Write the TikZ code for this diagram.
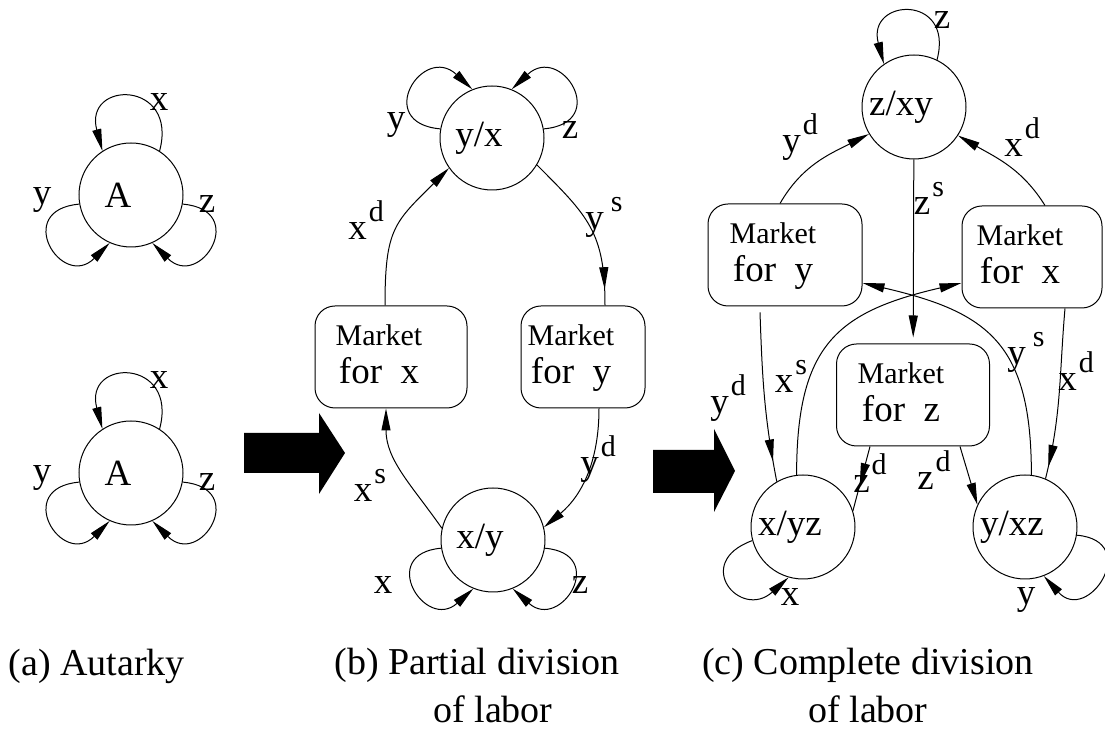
\documentclass[tikz,border=0pt]{standalone}
\usepackage{fontspec}
\setmainfont{Liberation Serif}
\usetikzlibrary{arrows.meta, decorations.markings}
\newcommand{\flow}[2]{#1\kern1pt\raisebox{9pt}{\fontsize{15}{15}\selectfont #2}}
\newcommand{\mkt}[1]{\begin{tabular}{@{}c@{}}{\fontsize{15}{15}\selectfont Market}\\ for\enspace #1\end{tabular}}

\begin{document}
\begin{tikzpicture}[x=0.5pt, y=0.5pt, line width=0.5pt, >={Triangle[length=11pt,width=4.5pt]},
    agent/.style={circle, draw, minimum size=52pt, inner sep=0pt, font=\fontsize{18.5}{20}\selectfont, execute at end node=\hspace{13pt}},
    market/.style={draw, rounded corners=10pt, minimum height=51pt, inner sep=0pt, font=\fontsize{18.5}{19}\selectfont, execute at end node=\hspace{12pt}},
    lbl/.style={inner sep=0pt, font=\fontsize{18.5}{20}\selectfont},
    caption/.style={align=center, inner sep=0pt, font=\fontsize{19}{24}\selectfont},
    midarrow/.style={postaction={decorate}, decoration={markings, mark=at position #1 with {\arrow{>}}}}]
    \useasboundingbox (0,0) rectangle (1105,733);

    % Nodes
    \node[agent] (A1) at (131,538) {A};
    \node[agent] (A2) at (131,260) {A};
    \node[agent] (YX) at (492,595) {y/x};
    \node[agent] (XY) at (493,193) {x/y};
    \node[market, minimum width=76pt] (MX) at (391,376) {\mkt{x}};
    \node[market, minimum width=62pt] (MY) at (583,376) {\mkt{y}};
    \node[agent] (ZXY) at (914,626) {z/xy};
    \node[agent] (XYZ) at (803,206) {x/yz};
    \node[agent] (YXZ) at (1025,206) {y/xz};
    \node[market, minimum width=77pt] (MYc) at (785,478) {\mkt{y}};
    \node[market, minimum width=70pt] (MXc) at (1032,476) {\mkt{x}};
    \node[market, minimum width=76.5pt] (MZ) at (913,338) {\mkt{z}};

    % (a) autarky loops
    \foreach \n in {A1,A2} {
      \draw[->] (\n.57) to[out=75,in=105,looseness=3.3] (\n.123);
      \draw[->] (\n.190) to[out=185,in=225,looseness=3.5] (\n.246);
      \draw[->] (\n.350) to[out=355,in=315,looseness=3.5] (\n.294);
      \node[lbl] (lx\n) at ([shift={(28,93)}]\n.center) {x};
      \node[lbl] (ly\n) at ([shift={(-89,-5)}]\n.center) {y};
      \node[lbl] (lz\n) at ([shift={(76,-9)}]\n.center) {z};
    }

    % (b) edges
    \draw[->] ([xshift=-3pt]MX.north) to[out=90,in=225,looseness=1.3] (YX.215);
    \draw[midarrow=0.9] (YX.329) to[out=-45,in=90,looseness=1.2] ([xshift=11pt]MY.north);
    \draw[->] ([xshift=8pt]MY.south) to[out=270,in=40] (XY.14);
    \draw[->] (XY.167) to[out=125,in=270] ([xshift=-2.5pt]MX.south);
    \draw[->] (YX.170) to[out=175,in=137,looseness=3.4] (YX.112);
    \draw[->] (YX.10) to[out=5,in=43,looseness=3.4] (YX.68);
    \draw[->] (XY.189) to[out=185,in=222,looseness=3.2] (XY.248);
    \draw[->] (XY.351) to[out=355,in=318,looseness=3.2] (XY.292);

    \node[lbl] (lyb) at (396,608) {y};
    \node[lbl] (lzb) at (570,603) {z};
    \node[lbl] (lxb) at (383,148) {x};
    \node[lbl] (lzb2) at (580,148) {z};
    \node[lbl] (xdb) at (366,513) {\flow{x}{d}};
    \node[lbl] (ysb) at (604,516) {\flow{y}{\,s}};
    \node[lbl] (ydb) at (598,274) {\flow{y}{d}};
    \node[lbl] (xsb) at (370,248) {\flow{x}{s}};

    % big arrows
    \fill (244,260) -- (319,260) -- (319,239) -- (345,280) -- (319,320) -- (319,300) -- (244,300) -- cycle;
    \fill (653,240) -- (714,240) -- (714,221) -- (735,262) -- (714,304) -- (714,283) -- (653,283) -- cycle;

    % (c) edges
    \draw[->] ([xshift=-2.5pt]MYc.north) to[out=60,in=207] (ZXY.211);
    \draw[->] ([xshift=6.5pt]MXc.north) to[out=122,in=330] (ZXY.327);
    \draw[->, shorten >=3pt] (ZXY) -- (MZ);
    \draw[midarrow=0.88] ([xshift=-12.5pt,yshift=-3pt]MYc.south) to[out=272,in=101] (XYZ.120);
    \draw[->] (XYZ.97) to[out=90,in=193,looseness=1.3] ([yshift=-13pt]MXc.west);
    \draw[->] (YXZ.83) to[out=90,in=347,looseness=1.3] ([yshift=-14pt]MYc.east);
    \draw[midarrow=0.93] ([xshift=16.5pt]MXc.south) to[out=265,in=76] (YXZ.67);
    \draw[midarrow=0.6] ([xshift=-21.5pt]MZ.south) -- (XYZ.18);
    \draw[->] ([xshift=23.5pt]MZ.south) -- (YXZ.155);
    \draw[->] (ZXY.64) to[out=75,in=105,looseness=3.3] (ZXY.125);
    \draw[->] (XYZ.195) to[out=200,in=222,looseness=3.2] (XYZ.254);
    \draw[->] (YXZ.351) to[out=355,in=312,looseness=3.2] (YXZ.291);

    \node[lbl] (lzc) at (942,713) {z};
    \node[lbl] (lxc) at (790,136) {x};
    \node[lbl] (lyc) at (1026,133) {y};
    \node[lbl] (ydc) at (800,596) {\flow{y}{d}};
    \node[lbl] (xdc) at (1022,596) {\flow{x}{d}};
    \node[lbl] (zsc) at (929,535) {\flow{z}{s}};
    \node[lbl] (ydc2) at (728,335) {\flow{y}{d}};
    \node[lbl] (xsc) at (791,357) {\flow{x}{s}};
    \node[lbl] (ysc) at (1026,381) {\flow{y}{\,s}};
    \node[lbl] (xdc2) at (1076,362) {\flow{x}{d}};
    \node[lbl] (zdc) at (870,260) {\flow{z}{d}};
    \node[lbl] (zdc2) at (934,263) {\flow{z}{d}};

    % captions
    \node[caption, anchor=west] (capa) at (8,67) {(a) Autarky};
    \node[caption] (capb) at (477,47) {(b) Partial division\\\hspace*{16pt}of labor};
    \node[caption] (capc) at (868,47) {(c) Complete division\\of labor};
\end{tikzpicture}
\end{document}
